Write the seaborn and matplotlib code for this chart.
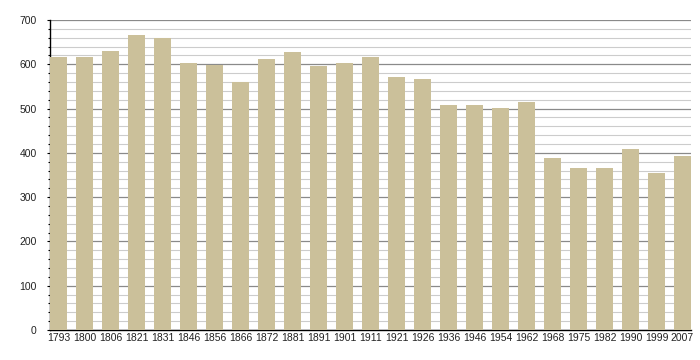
import matplotlib
matplotlib.use("Agg")
import matplotlib.pyplot as plt
import seaborn as sns
import pandas as pd
from matplotlib.ticker import MultipleLocator

years = ["1793", "1800", "1806", "1821", "1831", "1846", "1856", "1866", "1872", "1881",
         "1891", "1901", "1911", "1921", "1926", "1936", "1946", "1954", "1962", "1968",
         "1975", "1982", "1990", "1999", "2007"]
population = [616, 616, 629, 665, 660, 602, 599, 561, 611, 627,
              595, 602, 616, 571, 566, 507, 507, 502, 514, 389,
              366, 366, 409, 354, 392]

df = pd.DataFrame({"year": years, "pop": population})

sns.set_theme(style="white")
plt.rcParams["font.family"] = ["Liberation Sans", "DejaVu Sans"]

fig = plt.figure(figsize=(7, 3.6), dpi=100)
ax = fig.add_axes([50/700, 30/360, 641/700, 310/360])

w = 0.655
sns.barplot(data=df, x="year", y="pop", color="#CBC09A", saturation=1,
            width=w, ax=ax, zorder=3, edgecolor="none")

ax.set_xlim(-w/2, len(years) - 1 + w/2)
ax.set_ylim(0, 700)
ax.yaxis.set_major_locator(MultipleLocator(100))
ax.yaxis.set_minor_locator(MultipleLocator(20))
ax.grid(which="major", axis="y", color="#8a8a8a", linewidth=0.9, zorder=1)
ax.grid(which="minor", axis="y", color="#cccccc", linewidth=0.8, zorder=1)
ax.set_axisbelow(True)

for s in ["top", "right"]:
    ax.spines[s].set_visible(False)
ax.spines["left"].set_color("black")
ax.spines["bottom"].set_color("black")
ax.spines["left"].set_linewidth(1.0)
ax.spines["bottom"].set_linewidth(1.0)

ax.tick_params(axis="y", which="major", left=True, length=2.5, width=0.8, color="black",
               labelsize=7.5, pad=7, labelcolor="#222222")
ax.tick_params(axis="y", which="minor", left=True, length=1.5, width=0.8, color="black")
ax.tick_params(axis="x", bottom=False, length=0, labelsize=7.5, pad=2, labelcolor="#222222")
ax.set_xlabel("")
ax.set_ylabel("")

fig.savefig("out.png", dpi=100)
